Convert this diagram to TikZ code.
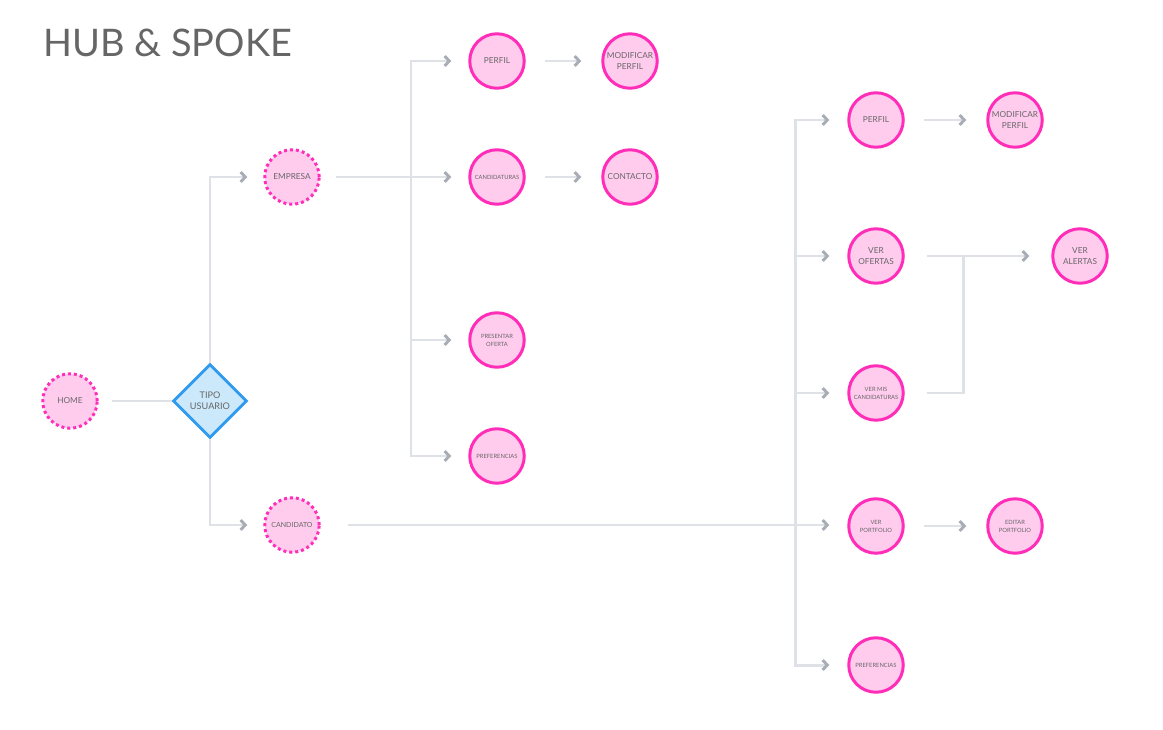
\documentclass[tikz,border=0pt]{standalone}
\usepackage{fontspec}
\setmainfont{Lato}
\usetikzlibrary{shapes.geometric,arrows.meta}
\definecolor{pinkfill}{HTML}{FFCCEE}
\definecolor{pinkline}{HTML}{FF2DB8}
\definecolor{bluefill}{HTML}{CCE8FB}
\definecolor{blueline}{HTML}{2F9BEF}
\definecolor{linkgray}{HTML}{DEE1E6}
\definecolor{tipgray}{HTML}{A9ADB5}
\definecolor{textgray}{HTML}{666666}
\tikzset{
  page/.style={circle, draw=pinkline, fill=pinkfill, line width=1.7pt,
               minimum size=1.09cm, inner sep=0pt, align=center, text=textgray,
               font=\fontsize{4.7}{6}\selectfont},
  hub/.style={page, dash pattern=on 1.7pt off 1.7pt},
  small/.style={font=\fontsize{3.3}{4.6}\selectfont},
  choice/.style={diamond, draw=blueline, fill=bluefill, line width=1.7pt,
                 minimum width=1.48cm, minimum height=1.48cm, inner sep=0pt,
                 align=center, text=textgray, font=\fontsize{5.2}{6.4}\selectfont},
  link/.style={draw=linkgray, line width=1.7pt},
  spoke/.style={link, -{Straight Barb[length=2.6pt,width=5.6pt,color=tipgray]}},
  title/.style={text=textgray, font=\fontsize{21.6}{25}\selectfont, inner sep=0pt}
}
\begin{document}
\begin{tikzpicture}[x=0.02cm,y=-0.02cm]
    \def\ce{497} % empresa column
    \def\cc{876} % candidato column
    \useasboundingbox[fill=white] (0,0) rectangle (1163,730);

    \node[title, anchor=base west] (title) at (43,56) {HUB \& SPOKE};

    % hubs
    \node[hub] (home) at (70,401) {HOME};
    \node[choice] (tipo) at (210,401) {TIPO\\USUARIO};
    \node[hub] (empresa) at (292,177) {EMPRESA};
    \node[hub, font=\fontsize{4}{5}\selectfont] (candidato) at (292,525) {CANDIDATO};

    % empresa pages
    \node[page] (perfilE) at (\ce,61) {PERFIL};
    \node[page] (modE) at (630,61) {MODIFICAR\\PERFIL};
    \node[page, small] (candE) at (\ce,177) {CANDIDATURAS};
    \node[page] (contacto) at (630,177) {CONTACTO};
    \node[page, small] (presE) at (\ce,340) {PRESENTAR\\OFERTA};
    \node[page, small] (prefE) at (\ce,456) {PREFERENCIAS};

    % candidato pages
    \node[page] (perfilC) at (\cc,120) {PERFIL};
    \node[page] (modC) at (1015,120) {MODIFICAR\\PERFIL};
    \node[page] (ofertas) at (\cc,256) {VER\\OFERTAS};
    \node[page] (alertas) at (1080,256) {VER\\ALERTAS};
    \node[page, small] (misCand) at (\cc,393) {VER MIS\\CANDIDATURAS};
    \node[page, small] (portfolio) at (\cc,526) {VER\\PORTFOLIO};
    \node[page, small] (editar) at (1015,526) {EDITAR\\PORTFOLIO};
    \node[page, small] (prefC) at (\cc,665) {PREFERENCIAS};

    \coordinate (busE) at (411,177);
    \coordinate (busC) at (795,524);
    \coordinate (joinO) at (963,256);

    % hub links
    \draw[link, shorten <=0.26cm] (home.east) -- (tipo.west);
    \draw[spoke, shorten >=0.32cm] (tipo.north) |- (empresa.west);
    \draw[spoke, shorten >=0.32cm] (tipo.south) |- (candidato.west);

    % empresa bus
    \draw[spoke, shorten <=0.3cm, shorten >=0.34cm] (empresa.east) -- (candE.west);
    \draw[link, {Straight Barb[length=2.6pt,width=5.6pt,color=tipgray]}-{Straight Barb[length=2.6pt,width=5.6pt,color=tipgray]},
          shorten <=0.34cm, shorten >=0.34cm] (perfilE.west) -| (busE) |- (prefE.west);
    \draw[spoke, shorten >=0.34cm] (busE |- presE.west) -- (presE.west);

    % candidato bus
    \draw[spoke, shorten <=0.54cm, shorten >=0.36cm] (candidato.east) -- (candidato.east -| portfolio.west);
    \draw[link, {Straight Barb[length=2.6pt,width=5.6pt,color=tipgray]}-{Straight Barb[length=2.6pt,width=5.6pt,color=tipgray]},
          shorten <=0.36cm, shorten >=0.36cm] (perfilC.west) -| (busC) |- (prefC.west);
    \foreach \n in {ofertas,misCand}
        \draw[spoke, shorten >=0.36cm] (busC |- \n.west) -- (\n.west);

    % page to page
    \foreach \a/\b in {perfilE/modE, candE/contacto, perfilC/modC, portfolio/editar}
        \draw[spoke, shorten <=0.38cm, shorten >=0.4cm] (\a) -- (\b);
    \draw[spoke, shorten <=0.44cm, shorten >=0.44cm] (ofertas) -- (alertas);
    \draw[link, shorten <=0.44cm] (misCand.east) -| (joinO);
\end{tikzpicture}
\end{document}
